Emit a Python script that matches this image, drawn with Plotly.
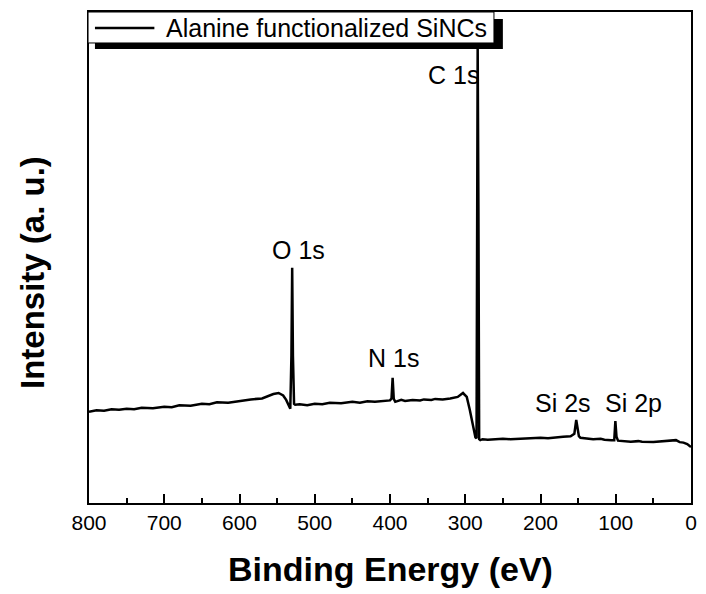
import plotly.graph_objects as go

# Binding energy (eV) and intensity (a.u.)
energy = [800, 790, 780, 770, 760, 750, 740, 730, 715, 700, 690, 680, 665, 650, 640, 630, 615,
          600, 585, 570, 560, 555, 548, 542, 538, 535, 532.5, 531, 530, 529, 527.5, 526,
          520, 510, 500, 490, 480, 465, 450, 440, 430, 420, 410, 400, 398, 396.5, 395,
          393, 385, 380, 370, 360, 355, 345, 340, 330, 320, 310, 303, 298, 294,
          290, 286.5, 285, 283.5, 282.5, 281.5, 280, 277, 270, 260, 250, 240, 230, 215, 200,
          190, 180, 170, 160, 155, 152.5, 151, 149, 147, 140, 130, 120, 115, 106, 102,
          100.5, 99, 97, 90, 80, 70, 65, 50, 40, 35, 25, 20, 15, 10, 5, 0]
intensity = [18.6, 18.9, 18.8, 19.1, 19.0, 19.2, 19.1, 19.4, 19.3, 19.6, 19.5, 19.9, 19.8,
             20.2, 20.1, 20.5, 20.4, 20.8, 21.1, 21.3, 21.9, 22.2, 22.4, 21.9, 21.0, 20.0,
             19.2, 30.0, 47.9, 30.0, 20.2, 20.0, 20.1, 19.9, 20.2, 20.1, 20.4, 20.3, 20.6,
             20.4, 20.7, 20.6, 20.8, 20.9, 21.3, 25.5, 21.2, 20.6, 21.0, 20.8, 21.0, 20.9,
             21.1, 21.0, 21.2, 21.1, 21.3, 21.6, 22.4, 21.6, 19.0, 15.6, 13.4, 13.2, 93.3,
             60.0, 13.0, 12.8, 13.0, 12.9, 13.0, 13.1, 13.0, 13.1, 13.2, 13.3, 13.2, 13.4,
             13.5, 13.6, 14.1, 16.9, 15.2, 13.6, 13.3, 13.2, 13.0, 13.1, 12.9, 12.8, 12.8,
             16.7, 13.5, 12.7, 12.6, 12.5, 12.6, 12.5, 12.4, 12.5, 12.6, 12.6, 12.8, 12.4,
             12.3, 12.0, 11.4]

peak_labels = ["O 1s", "N 1s", "C 1s", "Si 2s", "Si 2p"]
label_x = [521, 396, 316, 170, 77]
label_y = [51.5, 29.5, 87.2, 20.3, 20.3]

series_name = "Alanine functionalized SiNCs"
x_ticks = [800, 700, 600, 500, 400, 300, 200, 100, 0]

FONT = "Arial, Liberation Sans"

fig = go.Figure()
fig.add_trace(go.Scatter(x=energy, y=intensity, mode="lines", name=series_name,
                         line=dict(color="black", width=2.5), showlegend=False))

for t, xx, yy in zip(peak_labels, label_x, label_y):
    fig.add_annotation(x=xx, y=yy, text=t, showarrow=False, xanchor="center", yanchor="middle",
                       font=dict(family=FONT, size=25, color="black"))

# axis titles
fig.add_annotation(xref="paper", yref="paper", x=-0.095, y=0.47, text="<b>Intensity (a. u.)</b>",
                   textangle=-90, showarrow=False, xanchor="center", yanchor="middle",
                   font=dict(family=FONT, size=33, color="black"))
fig.add_annotation(xref="paper", yref="paper", x=0.5, y=-0.135, text="<b>Binding Energy (eV)</b>",
                   showarrow=False, xanchor="center", yanchor="middle",
                   font=dict(family=FONT, size=34, color="black"))

# legend box with drop shadow
fig.add_shape(type="rect", xref="paper", yref="paper", x0=0.0099, x1=0.6875, y0=0.9246, y1=0.9857,
              fillcolor="black", line=dict(width=0), layer="above")
fig.add_shape(type="rect", xref="paper", yref="paper", x0=-0.0016, x1=0.6727, y0=0.9369, y1=1.0,
              fillcolor="white", line=dict(color="black", width=1), layer="above")
fig.add_shape(type="line", xref="paper", yref="paper", x0=0.0099, x1=0.1086, y0=0.9674, y1=0.9674,
              line=dict(color="black", width=2.5), layer="above")
fig.add_annotation(xref="paper", yref="paper", x=0.125, y=0.9674, text=series_name,
                   showarrow=False, xanchor="left", yanchor="middle",
                   font=dict(family=FONT, size=25, color="black"))

fig.update_layout(
    width=706, height=594,
    margin=dict(l=89, r=9, t=12, b=91),
    paper_bgcolor="white", plot_bgcolor="white",
    font=dict(family=FONT, color="black"),
    showlegend=False,
)
fig.update_xaxes(range=[800, 0], tickvals=x_ticks, ticks="inside", ticklen=9, tickwidth=1.5,
                 tickcolor="black", showline=True, linecolor="black", linewidth=1.5, mirror=True,
                 showgrid=False, zeroline=False,
                 tickfont=dict(family=FONT, size=21, color="black"),
                 minor=dict(dtick=50, tick0=0, ticks="inside", ticklen=5, tickwidth=1.5,
                            tickcolor="black", showgrid=False))
fig.update_yaxes(range=[0, 100], showticklabels=False, ticks="", showline=True, linecolor="black",
                 linewidth=1.5, mirror=True, showgrid=False, zeroline=False)

fig.write_html("out.html")
